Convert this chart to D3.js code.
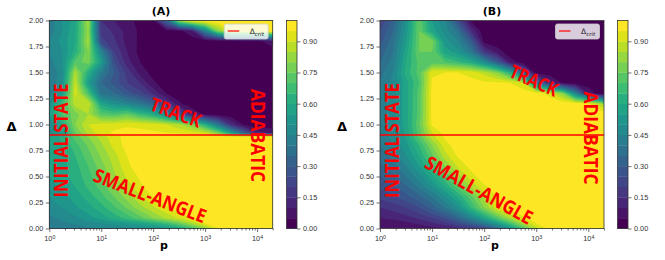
<!DOCTYPE html>
<html>
<head>
<meta charset="utf-8">
<script src="https://cdnjs.cloudflare.com/ajax/libs/d3/7.8.5/d3.min.js"></script>
<style>
  body { margin: 0; background: #fff; }
  svg { display: block; font-family: "DejaVu Sans", sans-serif; }
  .axis text { fill: #333; font-size: 7.3px; }
  .axis line { stroke: #333; stroke-width: 0.7; }
  .note { font-family: "Open Sans", sans-serif; font-weight: 700; fill: #ff0000; }
</style>
</head>
<body>
<svg id="chart" width="665" height="260"></svg>
<script>
// grid: columns are log10(p), rows are Delta (bottom to top)
var logP = [0, 0.25, 0.5, 0.75, 1, 1.25, 1.5, 1.75, 2, 2.25, 2.5, 2.75, 3, 3.25, 3.5, 3.75, 4, 4.25, 4.5];
var deltas = [0, 0.05, 0.1, 0.2, 0.3, 0.4, 0.5, 0.6, 0.7, 0.8, 0.88, 0.92, 1.0, 1.1, 1.2, 1.3, 1.4, 1.5, 1.6, 1.7, 1.8, 1.9, 2.0];

var zA = [
  [0.40,0.41,0.42,0.44,0.45,0.46,0.47,0.48,0.50,0.53,0.58,0.68,0.82,0.95,1,1,1,1,1],
  [0.42,0.44,0.46,0.48,0.50,0.52,0.55,0.58,0.62,0.68,0.76,0.86,0.95,1,1,1,1,1,1],
  [0.44,0.46,0.49,0.53,0.57,0.62,0.67,0.73,0.80,0.86,0.91,0.96,0.99,1,1,1,1,1,1],
  [0.47,0.50,0.54,0.58,0.63,0.69,0.76,0.83,0.89,0.94,0.98,1,1,1,1,1,1,1,1],
  [0.50,0.53,0.57,0.62,0.68,0.75,0.82,0.89,0.95,0.99,1,1,1,1,1,1,1,1,1],
  [0.53,0.56,0.60,0.66,0.72,0.80,0.87,0.94,0.98,1,1,1,1,1,1,1,1,1,1],
  [0.55,0.58,0.62,0.68,0.76,0.84,0.91,0.96,0.99,1,1,1,1,1,1,1,1,1,1],
  [0.55,0.58,0.63,0.70,0.78,0.86,0.94,0.98,1,1,1,1,1,1,1,1,1,1,1],
  [0.55,0.59,0.65,0.73,0.81,0.88,0.95,0.99,1,1,1,1,1,1,1,1,1,1,1],
  [0.55,0.60,0.68,0.76,0.84,0.92,0.97,1,1,1,1,1,1,1,1,1,1,1,1],
  [0.55,0.62,0.72,0.80,0.87,0.93,0.97,0.99,1,1,1,1,1,1,1,1,1,1,1],
  [0.48,0.55,0.75,0.87,0.93,0.96,0.97,0.97,0.96,0.95,0.94,0.93,0.90,0.78,0.55,0.30,0.12,0.10,0.10],
  [0.45,0.60,0.80,0.90,0.92,0.93,0.94,0.93,0.92,0.90,0.86,0.78,0.62,0.40,0.15,0.04,0.01,0.01,0.01],
  [0.55,0.70,0.78,0.85,0.72,0.70,0.74,0.66,0.60,0.45,0.28,0.10,0.03,0.01,0.01,0.01,0.01,0.01,0.01],
  [0.48,0.68,0.88,0.90,0.58,0.50,0.45,0.40,0.32,0.18,0.06,0.01,0.01,0.01,0.01,0.01,0.01,0.01,0.01],
  [0.42,0.55,0.92,0.70,0.38,0.35,0.28,0.22,0.14,0.05,0.02,0.01,0.01,0.01,0.01,0.01,0.01,0.01,0.01],
  [0.40,0.50,0.90,0.55,0.35,0.28,0.20,0.15,0.06,0.02,0.01,0.01,0.01,0.01,0.01,0.01,0.01,0.01,0.01],
  [0.40,0.48,0.86,0.62,0.42,0.30,0.18,0.08,0.03,0.01,0.01,0.01,0.01,0.01,0.01,0.01,0.01,0.01,0.01],
  [0.43,0.50,0.72,0.78,0.55,0.25,0.12,0.05,0.02,0.01,0.01,0.01,0.01,0.01,0.01,0.01,0.01,0.01,0.01],
  [0.45,0.50,0.62,0.80,0.45,0.20,0.10,0.03,0.01,0.01,0.01,0.01,0.01,0.01,0.01,0.01,0.01,0.01,0.01],
  [0.45,0.52,0.60,0.85,0.22,0.16,0.08,0.04,0.02,0.01,0.01,0.01,0.01,0.01,0.01,0.02,0.03,0.08,0.15],
  [0.42,0.50,0.60,0.82,0.18,0.14,0.08,0.04,0.02,0.02,0.03,0.10,0.45,0.80,0.95,1,1,1,1],
  [0.42,0.50,0.58,0.85,0.15,0.10,0.06,0.04,0.04,0.35,0.85,1,1,1,1,1,1,1,1]
];

var zB = [
  [0.05,0.05,0.06,0.07,0.08,0.10,0.13,0.17,0.22,0.35,0.50,0.70,0.88,0.97,1,1,1,1,1],
  [0.07,0.08,0.09,0.11,0.14,0.18,0.24,0.32,0.42,0.55,0.70,0.85,0.95,1,1,1,1,1,1],
  [0.10,0.11,0.13,0.16,0.20,0.26,0.34,0.45,0.58,0.72,0.85,0.94,0.98,1,1,1,1,1,1],
  [0.15,0.17,0.20,0.25,0.32,0.40,0.50,0.65,0.80,0.93,0.98,1,1,1,1,1,1,1,1],
  [0.21,0.24,0.28,0.33,0.40,0.49,0.60,0.73,0.86,0.95,0.99,1,1,1,1,1,1,1,1],
  [0.26,0.29,0.34,0.41,0.50,0.60,0.73,0.85,0.94,0.98,1,1,1,1,1,1,1,1,1],
  [0.30,0.34,0.40,0.48,0.58,0.70,0.83,0.93,0.98,1,1,1,1,1,1,1,1,1,1],
  [0.34,0.38,0.45,0.55,0.67,0.80,0.91,0.97,1,1,1,1,1,1,1,1,1,1,1],
  [0.37,0.42,0.50,0.60,0.74,0.88,0.96,1,1,1,1,1,1,1,1,1,1,1,1],
  [0.40,0.45,0.53,0.65,0.80,0.93,0.98,1,1,1,1,1,1,1,1,1,1,1,1],
  [0.42,0.47,0.56,0.72,0.88,0.96,0.99,1,1,1,1,1,1,1,1,1,1,1,1],
  [0.42,0.47,0.56,0.72,0.90,0.97,1,1,1,1,1,1,1,1,1,1,1,1,1],
  [0.42,0.48,0.58,0.74,0.96,1,1,1,1,1,1,1,1,1,1,1,1,1,1],
  [0.42,0.48,0.58,0.72,0.97,1,1,1,1,1,1,1,1,1,1,1,1,1,0.96],
  [0.42,0.48,0.58,0.72,0.97,1,1,1,1,1,1,1,1,0.99,0.99,0.98,0.96,0.85,0.45],
  [0.42,0.48,0.58,0.72,0.97,1,1,1,0.99,0.99,0.99,0.98,0.98,0.93,0.80,0.45,0.10,0.01,0.01],
  [0.40,0.47,0.58,0.70,0.96,0.98,0.98,0.97,0.96,0.96,0.95,0.90,0.40,0.15,0.05,0.02,0.01,0.01,0.01],
  [0.38,0.45,0.62,0.72,0.94,0.95,0.95,0.93,0.88,0.80,0.62,0.30,0.01,0.01,0.01,0.01,0.01,0.01,0.01],
  [0.35,0.42,0.60,0.72,0.72,0.70,0.66,0.60,0.48,0.30,0.08,0.02,0.01,0.01,0.01,0.01,0.01,0.01,0.01],
  [0.32,0.40,0.58,0.75,0.75,0.58,0.52,0.40,0.18,0.08,0.01,0.01,0.01,0.01,0.01,0.01,0.01,0.01,0.01],
  [0.28,0.38,0.55,0.75,0.78,0.52,0.45,0.30,0.03,0.01,0.01,0.01,0.01,0.01,0.01,0.01,0.01,0.01,0.01],
  [0.25,0.35,0.52,0.75,0.58,0.48,0.38,0.15,0.01,0.01,0.01,0.01,0.01,0.01,0.01,0.01,0.01,0.01,0.01],
  [0.20,0.32,0.50,0.75,0.55,0.45,0.25,0.04,0.01,0.01,0.01,0.01,0.01,0.01,0.01,0.01,0.01,0.01,0.01]
];

var levels = [0, 0.05, 0.1, 0.15, 0.2, 0.25, 0.3, 0.35, 0.4, 0.45, 0.5, 0.55, 0.6, 0.65, 0.7, 0.75, 0.8, 0.85, 0.9, 0.95, 1];
var cbTicks = [0, 0.15, 0.3, 0.45, 0.6, 0.75, 0.9];
var yTicks = [0, 0.25, 0.5, 0.75, 1, 1.25, 1.5, 1.75, 2];
var xMajor = [1, 10, 100, 1000, 10000];
var pRange = [1, 20000];
var dRange = [0, 2];
var dCrit = 0.9;

var svg = d3.select("#chart");
var plotTop = 20.5, plotBottom = 228.5;
var nBands = levels.length - 1;
function bandColor(i) { return d3.interpolateViridis(i / (nBands - 1)); }

var panels = [
  {id: "A", title: "(A)", z: zA, left: 49.3, right: 272.7, cb: 286.5, ylab: 11.5,
   notes: [
     {text: "INITIAL STATE", cx: 60.5, cy: 140.5, rot: -90, len: 114, size: 20},
     {text: "ADIABATIC", cx: 258.3, cy: 135.5, rot: 90, len: 93, size: 19},
     {text: "TRACK", cx: 176, cy: 112.5, rot: 20, len: 53, size: 19},
     {text: "SMALL-ANGLE", cx: 150, cy: 195.8, rot: 21, len: 119, size: 19}
   ], bar: 65.5},
  {id: "B", title: "(B)", z: zB, left: 380, right: 604, cb: 617.5, ylab: 342,
   notes: [
     {text: "INITIAL STATE", cx: 391.7, cy: 140.5, rot: -90, len: 115, size: 20},
     {text: "ADIABATIC", cx: 590.5, cy: 138, rot: 90, len: 93, size: 19},
     {text: "TRACK", cx: 534, cy: 80.5, rot: 24, len: 51, size: 19},
     {text: "SMALL-ANGLE", cx: 479, cy: 190, rot: 29, len: 120, size: 19}
   ], bar: 397}
];

// fractional grid coordinate -> value along a (possibly uneven) axis
function along(arr, c) {
  var t = Math.max(0, Math.min(arr.length - 1, c - 0.5));
  var i = Math.min(arr.length - 2, Math.floor(t));
  return arr[i] + (arr[i + 1] - arr[i]) * (t - i);
}

function drawPanel(p) {
  var x = d3.scaleLog().domain(pRange).range([p.left, p.right]);
  var y = d3.scaleLinear().domain(dRange).range([plotBottom, plotTop]);
  var g = svg.append("g");

  svg.append("clipPath").attr("id", "clip" + p.id)
    .append("rect")
      .attr("x", p.left).attr("y", plotTop)
      .attr("width", p.right - p.left).attr("height", plotBottom - plotTop);

  var values = [].concat.apply([], p.z);
  var contours = d3.contours()
      .size([logP.length, deltas.length])
      .thresholds(levels.slice(0, -1))(values);

  var path = d3.geoPath(d3.geoTransform({
    point: function(px, py) {
      this.stream.point(x(Math.pow(10, along(logP, px))), y(along(deltas, py)));
    }
  }));

  g.append("g").attr("clip-path", "url(#clip" + p.id + ")")
    .selectAll("path")
    .data(contours)
    .enter().append("path")
      .attr("d", path)
      .attr("fill", function(d, i) { return bandColor(i); });

  // critical delta
  g.append("line")
      .attr("x1", p.left).attr("x2", p.right)
      .attr("y1", y(dCrit)).attr("y2", y(dCrit))
      .attr("stroke", "#ff0000").attr("stroke-width", 1.5);

  // small mark left in the figure between the words
  g.append("line")
      .attr("x1", p.bar).attr("x2", p.bar)
      .attr("y1", 124).attr("y2", 134)
      .attr("stroke", "#333").attr("stroke-width", 0.8);

  p.notes.forEach(function(n) {
    g.append("text")
        .attr("class", "note")
        .attr("transform", "translate(" + n.cx + "," + n.cy + ") rotate(" + n.rot + ")")
        .attr("text-anchor", "middle")
        .attr("dy", "0.36em")
        .attr("font-size", n.size + "px")
        .attr("textLength", n.len)
        .attr("lengthAdjust", "spacingAndGlyphs")
        .text(n.text);
  });

  // legend
  var lx = p.right - 48.5, ly = 24;
  g.append("rect")
      .attr("x", lx).attr("y", ly).attr("width", 44).attr("height", 15)
      .attr("rx", 2)
      .attr("fill", "#fff").attr("fill-opacity", 0.8)
      .attr("stroke", "#ccc").attr("stroke-width", 0.8);
  g.append("line")
      .attr("x1", lx + 3.5).attr("x2", lx + 15)
      .attr("y1", ly + 7).attr("y2", ly + 7)
      .attr("stroke", "#ff0000").attr("stroke-width", 1.2);
  var lt = g.append("text")
      .attr("x", lx + 25.5).attr("y", ly + 10)
      .attr("font-size", "7.5px").attr("fill", "#222");
  lt.append("tspan").text("\u0394");
  lt.append("tspan").attr("font-size", "5.5px").attr("font-style", "italic").attr("dy", "1.5").text("crit");

  // frame
  g.append("rect")
      .attr("x", p.left).attr("y", plotTop)
      .attr("width", p.right - p.left).attr("height", plotBottom - plotTop)
      .attr("fill", "none").attr("stroke", "#333").attr("stroke-width", 0.8);

  // axes
  g.append("g")
      .attr("class", "axis")
      .attr("transform", "translate(" + p.left + ",0)")
      .call(d3.axisLeft(y).tickValues(yTicks).tickFormat(d3.format(".2f")).tickSize(3.5).tickPadding(2.5))
      .call(function(s) { s.select(".domain").remove(); });

  var minor = x.ticks().filter(function(v) { return xMajor.indexOf(v) < 0; });
  g.append("g")
      .attr("class", "axis")
      .attr("transform", "translate(0," + plotBottom + ")")
      .call(d3.axisBottom(x).tickValues(minor).tickSize(2).tickFormat(""))
      .call(function(s) { s.select(".domain").remove(); });

  g.append("g")
      .attr("class", "axis")
      .attr("transform", "translate(0," + plotBottom + ")")
      .call(d3.axisBottom(x).tickValues(xMajor).tickSize(3.5).tickPadding(4))
      .call(function(s) {
        s.select(".domain").remove();
        s.selectAll(".tick text").each(function(d) {
          var t = d3.select(this).text("");
          t.append("tspan").text("10");
          t.append("tspan").attr("dy", "-0.45em").attr("font-size", "5.3px").text(Math.round(Math.log10(d)));
        });
      });

  g.append("text")
      .attr("x", (p.left + p.right) / 2 + 3).attr("y", 248.7)
      .attr("text-anchor", "middle")
      .attr("font-size", "11px").attr("font-weight", "bold")
      .text("p");

  g.append("text")
      .attr("x", p.ylab).attr("y", 130.5)
      .attr("text-anchor", "middle")
      .attr("font-size", "13px").attr("font-weight", "bold")
      .text("\u0394");

  g.append("text")
      .attr("x", (p.left + p.right) / 2).attr("y", 15.3)
      .attr("text-anchor", "middle")
      .attr("font-size", "11px").attr("font-weight", "bold")
      .text(p.title);

  // colorbar
  var cy = d3.scaleLinear().domain([0, 1]).range([plotBottom, plotTop]);
  var cbw = 10.5;
  g.selectAll(".band")
    .data(levels.slice(0, -1))
    .enter().append("rect")
      .attr("x", p.cb)
      .attr("y", function(d, i) { return cy(levels[i + 1]); })
      .attr("width", cbw)
      .attr("height", function(d, i) { return cy(levels[i]) - cy(levels[i + 1]) + 0.3; })
      .attr("fill", function(d, i) { return bandColor(i); });
  g.append("rect")
      .attr("x", p.cb).attr("y", plotTop)
      .attr("width", cbw).attr("height", plotBottom - plotTop)
      .attr("fill", "none").attr("stroke", "#333").attr("stroke-width", 0.8);
  g.append("g")
      .attr("class", "axis")
      .attr("transform", "translate(" + (p.cb + cbw) + ",0)")
      .call(d3.axisRight(cy).tickValues(cbTicks).tickFormat(d3.format(".2f")).tickSize(3.5).tickPadding(2.5))
      .call(function(s) { s.select(".domain").remove(); });
}

panels.forEach(drawPanel);
</script>
</body>
</html>
